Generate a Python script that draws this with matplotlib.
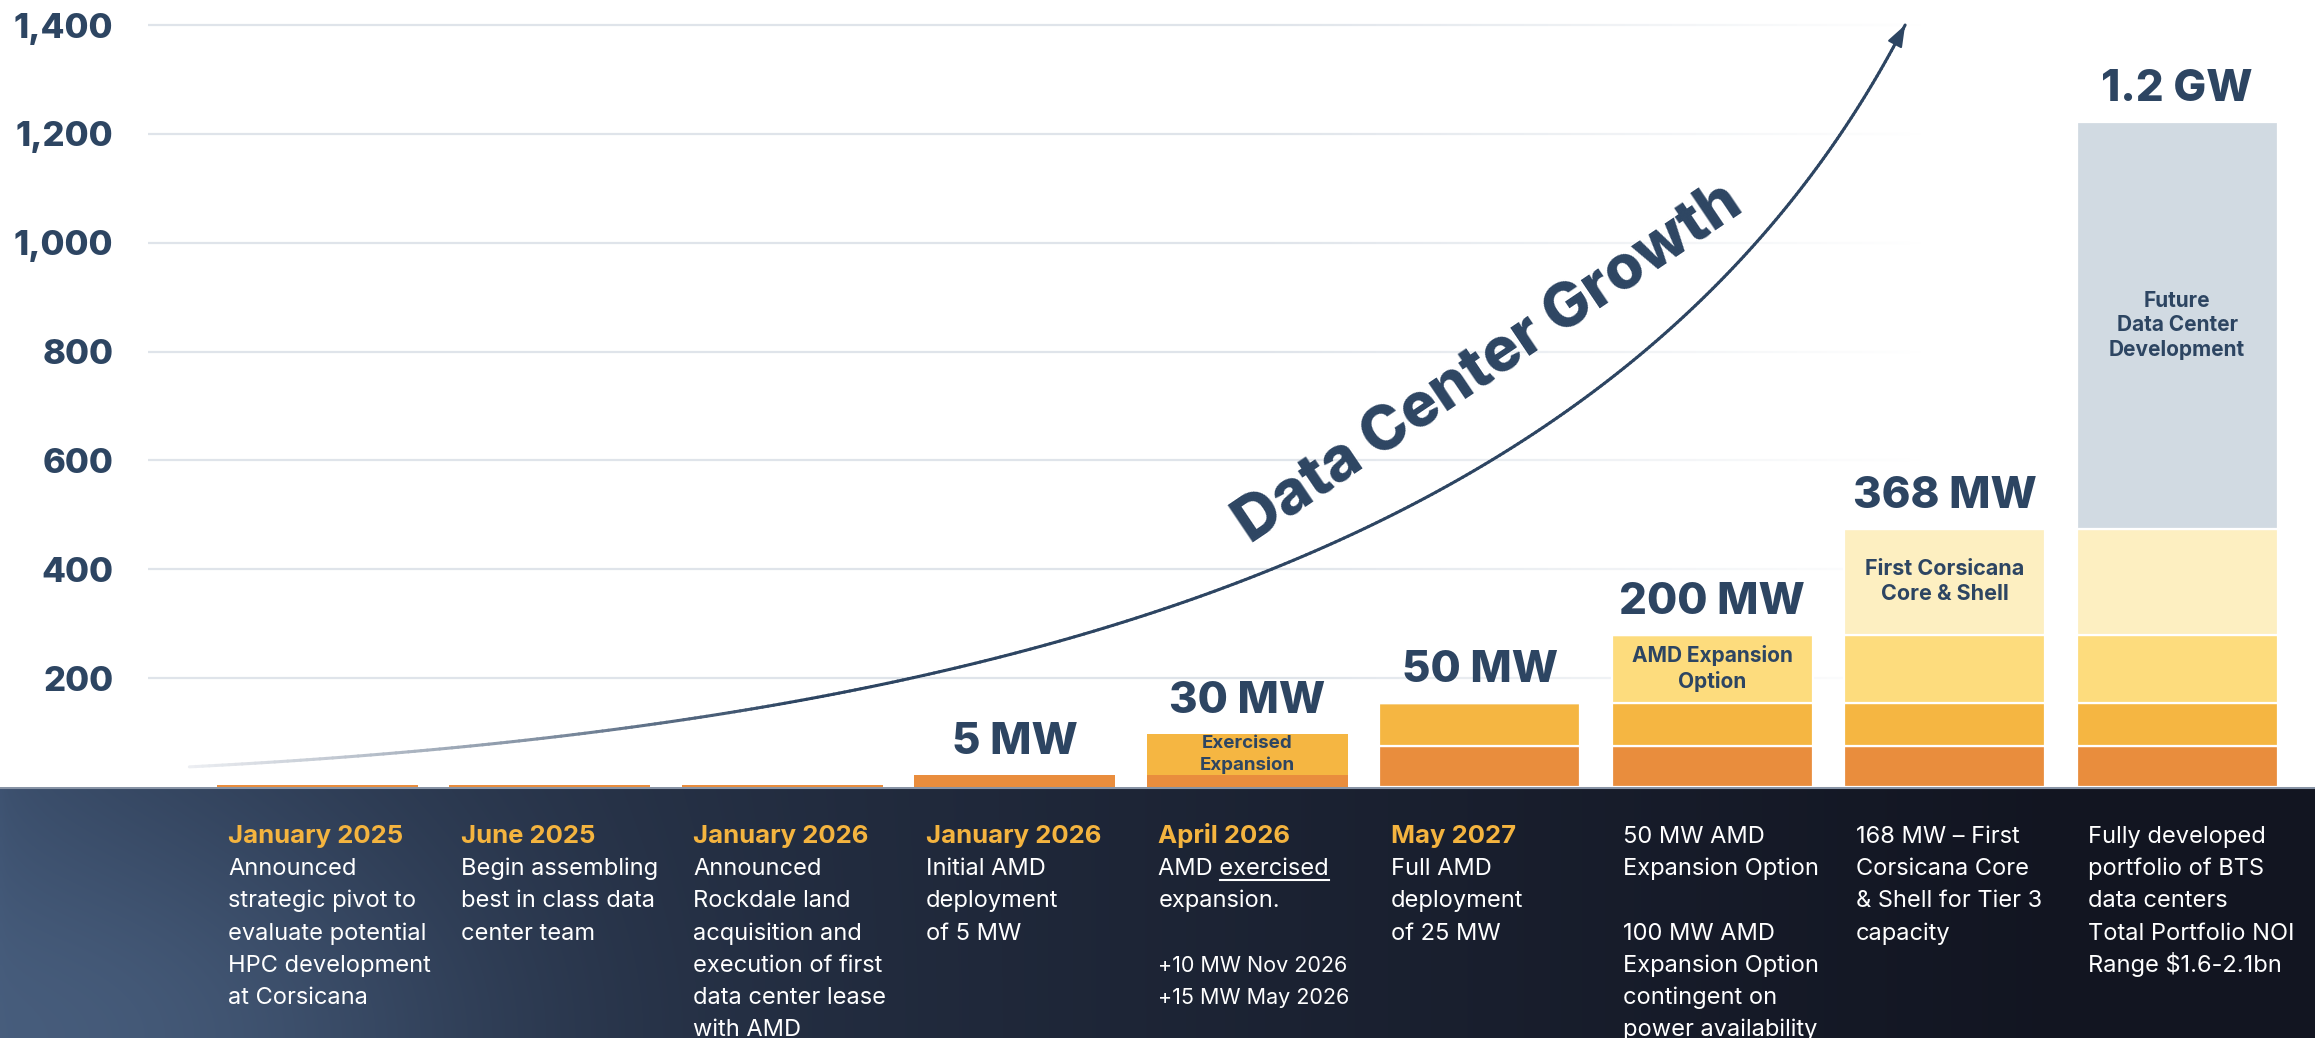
import numpy as np
import matplotlib
matplotlib.use('Agg')
import matplotlib.pyplot as plt
from matplotlib.collections import LineCollection
from matplotlib.transforms import blended_transform_factory
from matplotlib.lines import Line2D
from matplotlib.colors import to_rgb

plt.rcParams['font.family'] = ['Inter', 'DejaVu Sans']

# stacked bar segments (visual heights, y axis units)
bar_orange = [4, 4, 4, 22, 22, 75, 75, 75, 75]
bar_amber = [0, 0, 0, 0, 75, 79, 79, 79, 79]
bar_yellow = [0, 0, 0, 0, 0, 0, 126, 126, 126]
bar_pale = [0, 0, 0, 0, 0, 0, 0, 194, 194]
bar_gray = [0, 0, 0, 0, 0, 0, 0, 0, 748]
top_labels = ['', '', '', '5 MW', '30 MW', '50 MW', '200 MW', '368 MW', '1.2 GW']
yticks = [200, 400, 600, 800, 1000, 1200, 1400]

# text inside segments: (bar, segment, label)
inner_labels = [
    (4, 'amber', 'Exercised\nExpansion'),
    (6, 'yellow', 'AMD Expansion\nOption'),
    (7, 'pale', 'First Corsicana\nCore & Shell'),
    (8, 'gray', 'Future\nData Center\nDevelopment'),
]

dates = ['January 2025', 'June 2025', 'January 2026', 'January 2026',
         'April 2026', 'May 2027', '', '', '']
notes = [
    ['Announced', 'strategic pivot to', 'evaluate potential', 'HPC development', 'at Corsicana'],
    ['Begin assembling', 'best in class data', 'center team'],
    ['Announced', 'Rockdale land', 'acquisition and', 'execution of first',
     'data center lease', 'with AMD'],
    ['Initial AMD', 'deployment', 'of 5 MW'],
    ['AMD exercised', 'expansion.', '', '+10 MW Nov 2026', '+15 MW May 2026'],
    ['Full AMD', 'deployment', 'of 25 MW'],
    ['50 MW AMD', 'Expansion Option', '', '100 MW AMD', 'Expansion Option',
     'contingent on', 'power availability'],
    ['168 MW \u2013 First', 'Corsicana Core', '& Shell for Tier 3', 'capacity'],
    ['Fully developed', 'portfolio of BTS', 'data centers', 'Total Portfolio NOI',
     r'Range \$1.6-2.1bn'],
]
small_lines = ['+10 MW Nov 2026', '+15 MW May 2026']

# growth arrow (bezier control points, data coords)
curve_pts = np.array([[-0.55, 37], [3.25, 120], [5.73, 490], [6.83, 1400]])

navy = '#2d4562'
c_orange = '#e98d3d'
c_amber = '#f5b642'
c_yellow = '#fddc7d'
c_pale = '#fdefc1'
c_gray = '#d1dae2'
c_date = '#f4b43f'

W, H = 2315, 1038
fig = plt.figure(figsize=(W / 100, H / 100), dpi=100, facecolor='white')
panel_h = 251 / H
ax = fig.add_axes([148 / W, panel_h, 1 - 148 / W, 1 - panel_h])
ax.set_xlim(-0.728, 8.593)
ax.set_ylim(0, 1446)
for s in ax.spines.values():
    s.set_visible(False)
ax.set_xticks([])
ax.set_yticks(yticks)
ax.set_yticklabels([f'{v:,}' for v in yticks], fontsize=25, fontweight='heavy', color=navy)
ax.tick_params(axis='y', length=0, pad=25)

# fading gridlines
gx = np.linspace(-0.728, 6.9, 300)
galpha = np.clip((6.9 - gx) / (6.9 - 4.0), 0, 1)
gcol = np.array(to_rgb('#dfe4ea'))
for v in yticks:
    segs = [[(gx[i], v), (gx[i + 1], v)] for i in range(len(gx) - 1)]
    cols = [(*gcol, a) for a in galpha[:-1]]
    ax.add_collection(LineCollection(segs, colors=cols, linewidths=1.6, zorder=0))

# bars
x = np.arange(len(bar_orange))
width = 0.865
lw = [0, 0, 0, 0, 0, 1.6, 1.6, 1.6, 1.6]
stack = {}
bottom = np.zeros(len(x))
for name, vals, col in [('orange', bar_orange, c_orange), ('amber', bar_amber, c_amber),
                        ('yellow', bar_yellow, c_yellow), ('pale', bar_pale, c_pale),
                        ('gray', bar_gray, c_gray)]:
    vals = np.array(vals, dtype=float)
    ax.bar(x, vals, width, bottom=bottom, color=col, edgecolor='white', linewidth=lw, zorder=2)
    stack[name] = (bottom.copy(), vals)
    bottom = bottom + vals
totals = bottom

for i, lab in enumerate(top_labels):
    if lab:
        ax.annotate(lab, (x[i], totals[i]), xytext=(0, 15), textcoords='offset points',
                    ha='center', va='baseline', fontsize=31.5, fontweight='heavy', color=navy)

inner_size = {'amber': 13.5, 'yellow': 15, 'pale': 15.5, 'gray': 15}
for i, seg, lab in inner_labels:
    b, h = stack[seg]
    ax.text(x[i], b[i] + h[i] / 2, lab, ha='center', va='center', fontsize=inner_size[seg],
            fontweight='bold', color=navy, linespacing=1.3, zorder=3)

# growth curve with gradient
t = np.linspace(0, 1, 400)[:, None]
P0, P1, P2, P3 = curve_pts
bz = (1 - t) ** 3 * P0 + 3 * (1 - t) ** 2 * t * P1 + 3 * (1 - t) * t ** 2 * P2 + t ** 3 * P3
light = np.array(to_rgb('#eceef2'))
dark = np.array(to_rgb(navy))
mix = np.clip(t[:-1, 0] / 0.25, 0, 1)[:, None]
ccols = light * (1 - mix) + dark * mix
segs = np.stack([bz[:-1], bz[1:]], axis=1)
ax.add_collection(LineCollection(segs, colors=ccols, linewidths=2.2, zorder=4,
                                 capstyle='round'))
ax.annotate('', xy=bz[-1], xytext=bz[-8],
            arrowprops=dict(arrowstyle='-|>,head_length=0.6,head_width=0.22',
                            mutation_scale=22, color=navy, lw=1.5, shrinkA=0, shrinkB=0),
            zorder=5)
ax.text(5.04, 777, 'Data Center Growth', rotation=34, rotation_mode='anchor',
        ha='center', va='center', fontsize=44, fontweight='heavy', color=navy, zorder=5)

# dark panel with gradient
pax = fig.add_axes([0, 0, 1, panel_h])
pax.set_axis_off()
nx_, ny_ = 600, 120
xx, yy = np.meshgrid(np.linspace(0, 1, nx_), np.linspace(1, 0, ny_))
left = np.array(to_rgb('#3a4e6c'))
right = np.array(to_rgb('#121521'))
f = np.clip(xx / 0.9, 0, 1) ** 0.55
img = left * (1 - f[..., None]) + right * f[..., None]
glow = 0.75 * np.exp(-((xx - 0.02) / 0.17) ** 2 - (yy / 0.9) ** 2)
glow_col = np.array(to_rgb('#4c6383'))
img = img + (glow_col - img) * glow[..., None]
pax.imshow(img, extent=[0, 1, 0, 1], aspect='auto', interpolation='bilinear')
pax.set_xlim(0, 1)
pax.set_ylim(0, 1)
pax.axhline(0.995, color='#8793a5', lw=1.5)

# timeline text
tr = blended_transform_factory(ax.transData, fig.transFigure)
under = None
for i in range(len(dates)):
    xl = x[i] - width / 2 + 0.05
    lines = ([dates[i]] if dates[i] else []) + notes[i]
    for k, line in enumerate(lines):
        if not line:
            continue
        yb = 1 - (843 + 32.2 * k) / H
        if k == 0 and dates[i]:
            fig.text(xl, yb, line, transform=tr, fontsize=18.5, fontweight='bold',
                     color=c_date, va='baseline')
        else:
            fs = 15.5 if line in small_lines else 17
            tx = fig.text(xl, yb, line, transform=tr, fontsize=fs, color='white', va='baseline')
            if line == 'AMD exercised':
                under = tx

# underline "exercised"
fig.canvas.draw()
r = fig.canvas.get_renderer()
bb = under.get_window_extent(r)
probe = fig.text(0, 0, 'exercised', fontsize=17)
wpx = probe.get_window_extent(r).width
probe.remove()
base = under.get_transform().transform(under.get_position())[1]
fig.add_artist(Line2D([(bb.x1 - wpx) / W, bb.x1 / W], [(base - 5) / H, (base - 5) / H],
                      color='white', lw=1.5, transform=fig.transFigure))

fig.savefig('out.png', dpi=100, facecolor='white')
